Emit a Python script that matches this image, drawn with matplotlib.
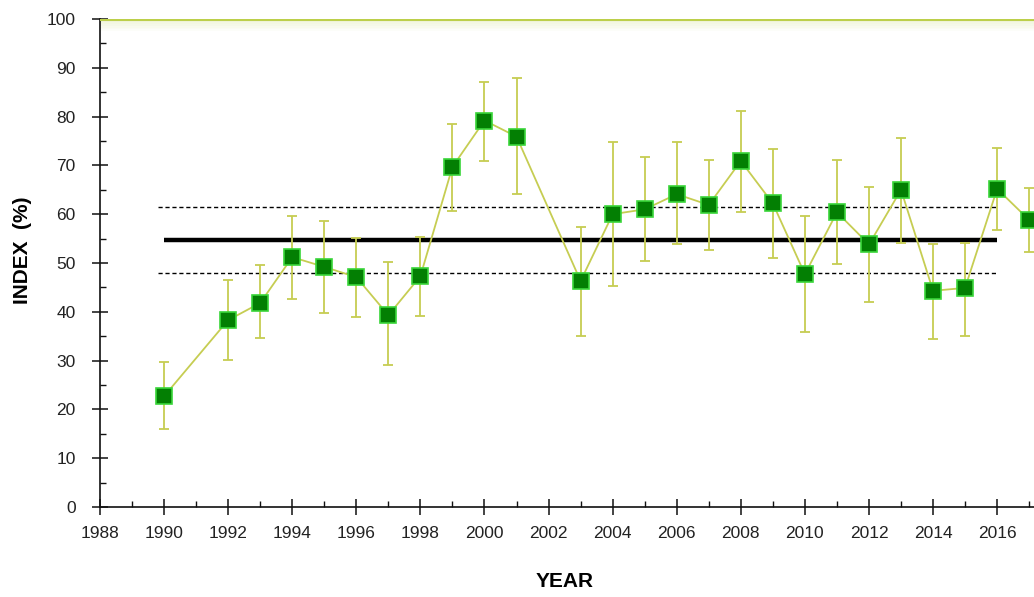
import matplotlib
matplotlib.use("Agg")
import matplotlib.pyplot as plt
from matplotlib.ticker import MultipleLocator
import numpy as np

plt.rcParams['font.family'] = ['Liberation Sans', 'DejaVu Sans']

years = [1990, 1992, 1993, 1994, 1995, 1996, 1997, 1998, 1999, 2000, 2001,
         2003, 2004, 2005, 2006, 2007, 2008, 2009, 2010, 2011, 2012, 2013,
         2014, 2015, 2016, 2017]
index = [22.7, 38.3, 41.8, 51.2, 49.2, 47.1, 39.3, 47.3, 69.7, 79.2, 75.9,
         46.3, 60.0, 61.0, 64.1, 61.9, 70.9, 62.2, 47.7, 60.4, 53.8, 65.0,
         44.3, 44.9, 65.2, 58.8]
upper = [29.7, 46.5, 49.6, 59.6, 58.7, 55.1, 50.3, 55.4, 78.5, 87.0, 88.0,
         57.4, 74.7, 71.8, 74.7, 71.1, 81.2, 73.3, 59.6, 71.1, 65.6, 75.7,
         53.8, 54.2, 73.6, 65.4]
lower = [16.0, 30.1, 34.7, 42.6, 39.7, 38.9, 29.0, 39.2, 60.7, 70.9, 64.1,
         35.0, 45.3, 50.5, 53.9, 52.7, 60.5, 51.0, 35.8, 49.7, 42.1, 54.2,
         34.4, 35.0, 56.8, 52.3]

mean_value = 54.7
band_upper = 61.5
band_lower = 48.0
ref_start, ref_end = 1990, 2016

line_col = '#c6cd52'
face_col = '#037f03'
edge_col = '#3ad63a'

fig = plt.figure(figsize=(10.34, 5.97), dpi=100)
ax = fig.add_axes([100/1034, 90/597, 934/1034, 488/597])

x = np.array(years)
y = np.array(index)
yerr = np.vstack([y - np.array(lower), np.array(upper) - y])

# reference band: long-term mean and its limits
ax.plot([ref_start, ref_end], [mean_value, mean_value], color='black', lw=3.2,
        solid_capstyle='butt', zorder=2)
for v in (band_upper, band_lower):
    ax.plot([ref_start - 0.2, ref_end], [v, v], color='black', lw=1.0,
            ls=(0, (3, 2)), zorder=2)

ax.errorbar(x, y, yerr=yerr, fmt='none', ecolor=line_col, elinewidth=1.3,
            capsize=3.5, capthick=1.3, zorder=3)
ax.plot(x, y, color=line_col, lw=1.3, zorder=4)
ax.plot(x, y, ls='none', marker='s', ms=11, mfc=face_col, mec=edge_col,
        mew=1.2, zorder=5)

# top limit line with soft shading beneath
ax.axhline(100, color='#bccf4a', lw=2.2, zorder=6)
for i, a in enumerate(np.linspace(0.3, 0.0, 8)):
    ax.axhspan(100 - 0.35 * (i + 1), 100 - 0.35 * i, color='#c9dc7a',
               alpha=a, lw=0, zorder=1)

ax.set_xlim(1988, 2017.15)
ax.set_ylim(0, 100)
ax.xaxis.set_major_locator(MultipleLocator(2))
ax.xaxis.set_minor_locator(MultipleLocator(1))
ax.yaxis.set_major_locator(MultipleLocator(10))
ax.yaxis.set_minor_locator(MultipleLocator(5))

for s in ('top', 'right'):
    ax.spines[s].set_visible(False)
for s in ('left', 'bottom'):
    ax.spines[s].set_linewidth(1.2)
    ax.spines[s].set_color('#111111')

ax.tick_params(which='major', direction='inout', length=11, width=1.1,
               color='#111111', labelsize=12.5, labelcolor='#222222')
ax.tick_params(axis='x', which='major', pad=8)
ax.tick_params(axis='y', which='major', pad=12)
ax.tick_params(which='minor', direction='in', length=4, width=1.0,
               color='#111111')

ax.set_xlabel('YEAR', fontsize=15, fontweight='bold', va='center')
ax.set_ylabel('INDEX  (%)', fontsize=15, fontweight='bold', va='center')
ax.xaxis.set_label_coords(0.497, -0.152)
ax.yaxis.set_label_coords(-0.083, 0.527)

fig.savefig('out.png', dpi=100)
